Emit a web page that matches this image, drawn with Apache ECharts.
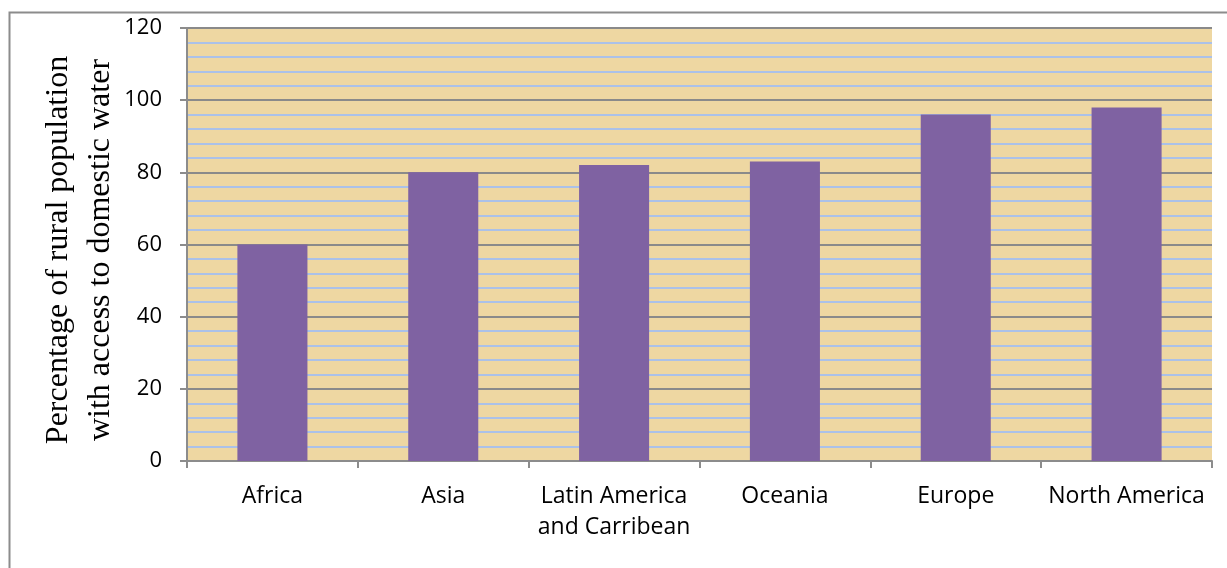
<!DOCTYPE html>
<html><head><meta charset="utf-8">
<script src="https://cdn.jsdelivr.net/npm/echarts@6/dist/echarts.min.js"></script>
<style>html,body{margin:0;padding:0;background:#fff}#c{width:1227px;height:568px}</style>
</head><body><div id="c"></div>
<script>
const categories = ["Africa", "Asia", "Latin America\nand Carribean", "Oceania", "Europe", "North America"];
const values = [60, 80, 82, 83, 96, 98];
const yTitle = "Percentage of rural population\nwith access to domestic water";

const chart = echarts.init(document.getElementById('c'), null, {renderer: 'canvas'});
chart.setOption({
  animation: false,
  backgroundColor: '#ffffff',
  graphic: [{
    type: 'rect', left: 7, top: 10, z: -10,
    shape: {width: 1240, height: 580},
    style: {fill: 'none', stroke: '#8c8c8c', lineWidth: 2}
  }, {
    type: 'text', x: 80, y: 250, rotation: Math.PI / 2,
    style: {text: yTitle, font: '32px "Liberation Serif"', fill: '#000',
            align: 'center', verticalAlign: 'middle', lineHeight: 42}
  }],
  grid: {left: 187, right: 15, top: 28, bottom: 107, show: true,
         backgroundColor: '#EED7A2', borderWidth: 0},
  xAxis: {
    type: 'category', data: categories,
    axisLine: {lineStyle: {color: '#8c8c8c', width: 2}},
    axisTick: {show: true, length: 7, interval: 0, lineStyle: {color: '#8c8c8c', width: 2}},
    axisLabel: {color: '#000', fontFamily: 'Open Sans', fontSize: 23, margin: 20, lineHeight: 31, interval: 0}
  },
  yAxis: {
    type: 'value', min: 0, max: 120, interval: 20,
    axisLine: {show: true, lineStyle: {color: '#8c8c8c', width: 2}},
    axisTick: {show: true, length: 7, lineStyle: {color: '#8c8c8c', width: 2}},
    axisLabel: {color: '#000', fontFamily: 'Open Sans', fontSize: 22, margin: 25},
    splitLine: {show: true, lineStyle: {color: '#8a8a8a', width: 2}},
    minorTick: {show: false, splitNumber: 5},
    minorSplitLine: {show: true, lineStyle: {color: '#ABC1E8', width: 2}}
  },
  series: [{
    type: 'bar', data: values, barWidth: '41%',
    itemStyle: {color: '#7F62A2'}
  }]
});
</script></body></html>
